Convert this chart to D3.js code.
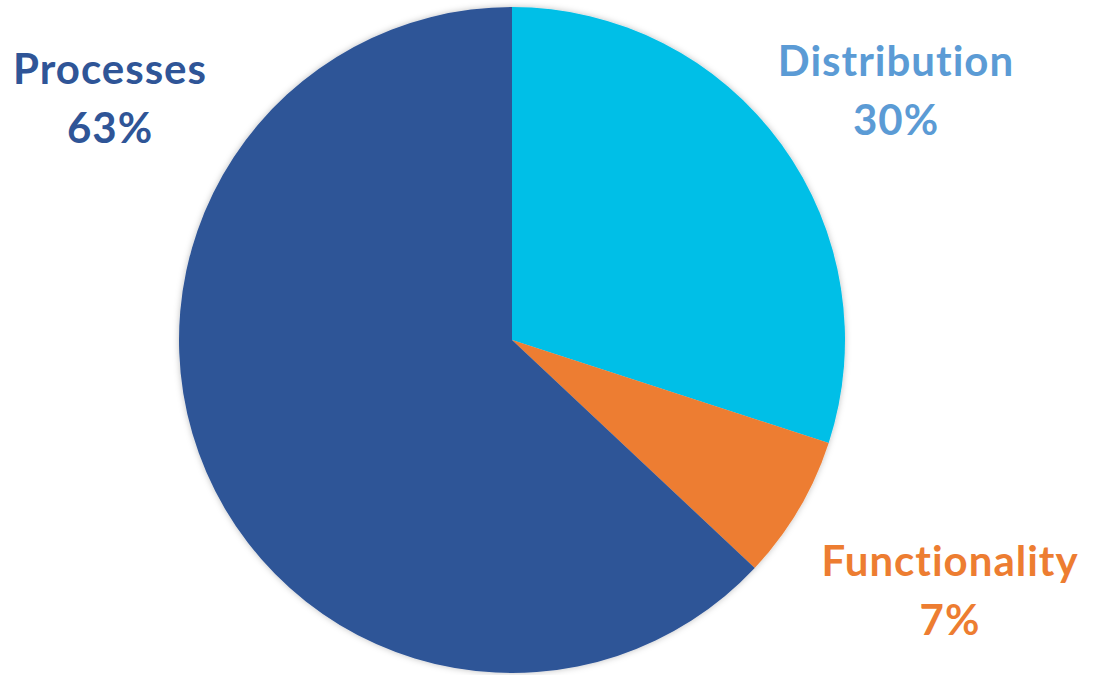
<!DOCTYPE html>
<html>
<head>
<meta charset="utf-8">
<script src="https://cdn.jsdelivr.net/npm/d3@7"></script>
<style>
  html, body { margin: 0; padding: 0; background: #ffffff; }
  svg { display: block; }
  text { font-family: Lato, "Open Sans", sans-serif; font-weight: 700; font-variant-ligatures: none; letter-spacing: 1px; }
</style>
</head>
<body>
<svg id="chart" width="1099" height="675"></svg>
<script>
// Share of issues by area (percent), clockwise from 12 o'clock
const categories = ["Distribution", "Functionality", "Processes"];
const values = [30, 7, 63];
const sliceColors = ["#00BFE7", "#ED7D31", "#2F5597"];
const labelColors = ["#5B9BD5", "#ED7D31", "#2F5597"];
const labelText = values.map(v => v + "%");

const width = 1099, height = 675;
const cx = 512, cy = 340, radius = 333;

const svg = d3.select("#chart");

// soft shadow around the pie
const defs = svg.append("defs");
const f = defs.append("filter").attr("id", "shadow")
  .attr("x", "-10%").attr("y", "-10%").attr("width", "120%").attr("height", "120%");
f.append("feDropShadow").attr("dx", 0).attr("dy", 0).attr("stdDeviation", 3)
  .attr("flood-color", "#000").attr("flood-opacity", 0.25);

const data = categories.map((c, i) => ({ name: c, value: values[i], color: sliceColors[i], label: labelColors[i], pct: labelText[i] }));

const pie = d3.pie().value(d => d.value).sort(null);
const arc = d3.arc().innerRadius(0).outerRadius(radius);

const g = svg.append("g").attr("transform", `translate(${cx},${cy})`);
g.append("g").attr("filter", "url(#shadow)")
  .selectAll("path")
  .data(pie(data))
  .join("path")
  .attr("d", arc)
  .attr("fill", d => d.data.color);

// labels placed outside the pie
const labelPos = {
  "Distribution": [896, 60],
  "Functionality": [950, 560],
  "Processes": [110, 68]
};

const labels = svg.append("g").selectAll("g")
  .data(data)
  .join("g")
  .attr("transform", d => `translate(${labelPos[d.name][0]},${labelPos[d.name][1]})`);

labels.append("text")
  .attr("text-anchor", "middle")
  .attr("dominant-baseline", "central")
  .attr("font-size", 42)
  .attr("fill", d => d.label)
  .text(d => d.name);

labels.append("text")
  .attr("text-anchor", "middle")
  .attr("dominant-baseline", "central")
  .attr("y", 59)
  .attr("font-size", 42)
  .attr("fill", d => d.label)
  .text(d => d.pct);
</script>
</body>
</html>
